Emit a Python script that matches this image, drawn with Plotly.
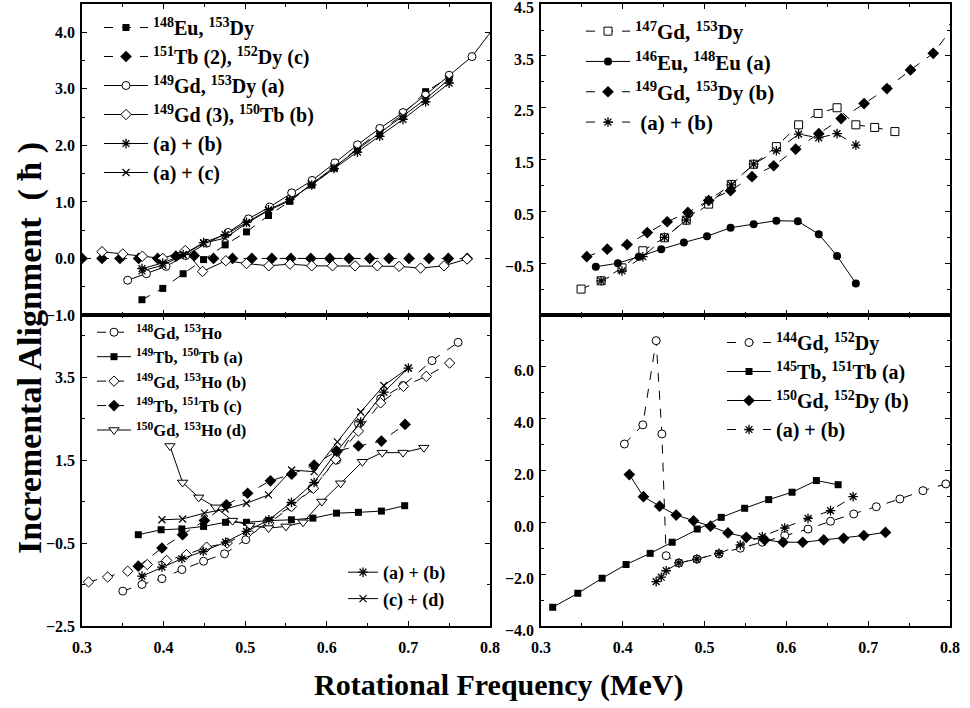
import plotly.graph_objects as go

# ---------------- data ----------------
# Top-left panel
tl_eu_x = [0.3735, 0.399, 0.424, 0.449, 0.4755, 0.5016, 0.5286, 0.5547, 0.5816, 0.609, 0.6376, 0.665, 0.6935, 0.7212, 0.75]
tl_eu_y = [-0.73, -0.53, -0.27, -0.02, 0.24, 0.47, 0.76, 1.01, 1.30, 1.60, 1.95, 2.25, 2.55, 2.95, 3.20]
tl_tb_x = [0.3, 0.3245, 0.3465, 0.3694, 0.3927, 0.4151, 0.4375, 0.4612, 0.4845, 0.5082, 0.5327, 0.556, 0.5804, 0.6037, 0.6273, 0.6527, 0.6763, 0.7008, 0.7253, 0.749, 0.7722]
tl_tb_y = [0.0, 0.0, 0.0, 0.0, 0.0, 0.04, 0.05, 0.0, 0.0, 0.0, 0.0, 0.0, 0.0, 0.0, 0.0, 0.0, 0.0, 0.0, 0.0, 0.0, 0.0]
tl_gd_x = [0.356, 0.379, 0.403, 0.427, 0.4527, 0.479, 0.504, 0.530, 0.557, 0.582, 0.610, 0.6376, 0.665, 0.6935, 0.721, 0.75, 0.778, 0.806]
tl_gd_y = [-0.385, -0.27, -0.14, 0.05, 0.27, 0.46, 0.70, 0.91, 1.16, 1.38, 1.69, 2.01, 2.30, 2.58, 2.89, 3.24, 3.57, 4.10]
tl_b_x = [0.3245, 0.35, 0.374, 0.399, 0.4265, 0.4478, 0.4763, 0.5016, 0.529, 0.555, 0.5816, 0.607, 0.6347, 0.662, 0.6886, 0.715, 0.7437, 0.772]
tl_b_y = [0.12, 0.08, 0.04, 0.0, 0.14, -0.23, -0.04, -0.09, -0.13, -0.10, -0.13, -0.13, -0.13, -0.13, -0.14, -0.17, -0.13, -0.01]
tl_ab_x = [0.3735, 0.399, 0.424, 0.449, 0.4755, 0.5016, 0.5286, 0.5547, 0.5816, 0.609, 0.6376, 0.665, 0.6935, 0.7212, 0.75]
tl_ab_y = [-0.18, -0.08, 0.07, 0.28, 0.42, 0.64, 0.86, 1.04, 1.30, 1.59, 1.88, 2.16, 2.46, 2.77, 3.10]
tl_ac_x = [0.3735, 0.399, 0.424, 0.449, 0.4755, 0.5016, 0.5286, 0.5547, 0.5816, 0.609, 0.6376, 0.665, 0.6935, 0.7212, 0.75]
tl_ac_y = [-0.22, -0.12, 0.06, 0.27, 0.36, 0.62, 0.85, 1.02, 1.32, 1.62, 1.93, 2.22, 2.52, 2.82, 3.17]

# Top-right panel
tr_gd_x = [0.349, 0.3735, 0.399, 0.4245, 0.451, 0.4776, 0.505, 0.5327, 0.560, 0.5878, 0.615, 0.6388, 0.662, 0.685, 0.708, 0.7327]
tr_gd_y = [-1.0, -0.84, -0.59, -0.26, -0.01, 0.33, 0.64, 1.02, 1.41, 1.75, 2.17, 2.39, 2.50, 2.17, 2.12, 2.04]
tr_eu_x = [0.367, 0.394, 0.4196, 0.447, 0.4747, 0.503, 0.5318, 0.56, 0.5878, 0.614, 0.6396, 0.662, 0.685]
tr_eu_y = [-0.57, -0.50, -0.375, -0.23, -0.10, 0.02, 0.185, 0.25, 0.32, 0.31, 0.06, -0.36, -0.89]
tr_b_x = [0.356, 0.381, 0.4053, 0.43, 0.4543, 0.4796, 0.505, 0.5318, 0.558, 0.5845, 0.6114, 0.6396, 0.667, 0.695, 0.723, 0.7518, 0.7796, 0.806]
tr_b_y = [-0.375, -0.23, -0.14, 0.09, 0.30, 0.48, 0.71, 0.90, 1.17, 1.38, 1.70, 2.00, 2.29, 2.58, 2.87, 3.23, 3.55, 4.10]
tr_ab_x = [0.3735, 0.399, 0.4245, 0.451, 0.4776, 0.505, 0.5327, 0.56, 0.5878, 0.615, 0.6396, 0.662, 0.685]
tr_ab_y = [-0.84, -0.65, -0.375, 0.0, 0.33, 0.72, 1.01, 1.41, 1.67, 1.99, 1.92, 2.0, 1.78]

# Bottom-left panel
bl_gd_x = [0.35, 0.3735, 0.398, 0.4224, 0.449, 0.4747, 0.5008, 0.527, 0.556, 0.582, 0.612, 0.6388, 0.666, 0.6935, 0.729, 0.761]
bl_gd_y = [-1.66, -1.50, -1.36, -1.14, -0.94, -0.76, -0.42, 0.02, 0.38, 0.82, 1.50, 2.38, 2.98, 3.30, 3.90, 4.34]
bl_tb_x = [0.369, 0.397, 0.4224, 0.449, 0.476, 0.5016, 0.529, 0.5567, 0.583, 0.612, 0.6388, 0.667, 0.6955]
bl_tb_y = [-0.30, -0.18, -0.16, -0.10, 0.0, 0.0, 0.04, 0.06, 0.10, 0.22, 0.24, 0.27, 0.40]
bl_b_x = [0.308, 0.3314, 0.356, 0.38, 0.4037, 0.428, 0.4527, 0.478, 0.504, 0.529, 0.5567, 0.5837, 0.611, 0.6388, 0.666, 0.694, 0.722, 0.7506]
bl_b_y = [-1.44, -1.32, -1.18, -1.02, -0.92, -0.78, -0.60, -0.50, -0.24, -0.02, 0.38, 0.82, 1.52, 2.20, 2.88, 3.28, 3.52, 3.84]
bl_c_x = [0.369, 0.398, 0.4233, 0.45, 0.477, 0.503, 0.531, 0.557, 0.5845, 0.612, 0.6388, 0.667, 0.696]
bl_c_y = [-1.06, -0.62, -0.30, 0.04, 0.42, 0.70, 1.00, 1.16, 1.38, 1.72, 1.84, 1.96, 2.36]
bl_d_x = [0.4078, 0.4233, 0.443, 0.464, 0.4845, 0.5057, 0.5286, 0.55, 0.571, 0.594, 0.617, 0.6437, 0.668, 0.6935, 0.719]
bl_d_y = [1.84, 0.96, 0.60, 0.36, 0.04, -0.08, -0.14, -0.10, 0.0, 0.50, 0.94, 1.46, 1.68, 1.68, 1.80]
bl_ab_x = [0.3735, 0.398, 0.4224, 0.4486, 0.476, 0.5016, 0.529, 0.5567, 0.5845, 0.612, 0.6416, 0.67, 0.70]
bl_ab_y = [-1.30, -1.08, -0.88, -0.70, -0.48, -0.22, 0.06, 0.48, 0.96, 1.70, 2.42, 3.14, 3.72]
bl_cd_x = [0.398, 0.4233, 0.45, 0.4755, 0.5016, 0.5286, 0.557, 0.5845, 0.613, 0.6416, 0.67, 0.70]
bl_cd_y = [0.06, 0.08, 0.22, 0.32, 0.46, 0.66, 1.26, 1.22, 1.94, 2.66, 3.30, 3.72]

# Bottom-right panel
br_gd_x = [0.402, 0.4245, 0.4408, 0.4478, 0.453, 0.4686, 0.4906, 0.5176, 0.5437, 0.5706, 0.598, 0.6265, 0.654, 0.6824, 0.71, 0.7388, 0.767, 0.795]
br_gd_y = [3.02, 3.76, 7.01, 3.41, -1.29, -1.57, -1.42, -1.22, -1.00, -0.77, -0.51, -0.26, 0.04, 0.32, 0.60, 0.90, 1.22, 1.48]
br_tb_x = [0.3143, 0.345, 0.3747, 0.404, 0.4335, 0.4604, 0.491, 0.5204, 0.549, 0.5784, 0.607, 0.6367, 0.6633]
br_tb_y = [-3.28, -2.74, -2.16, -1.63, -1.20, -0.77, -0.26, 0.19, 0.54, 0.875, 1.16, 1.61, 1.45]
br_b_x = [0.408, 0.4253, 0.445, 0.4653, 0.4865, 0.5073, 0.5286, 0.551, 0.5735, 0.596, 0.62, 0.6457, 0.670, 0.6947, 0.7212]
br_b_y = [1.84, 0.99, 0.62, 0.28, 0.06, -0.15, -0.41, -0.58, -0.68, -0.77, -0.77, -0.68, -0.62, -0.51, -0.39]
br_ab_x = [0.4408, 0.447, 0.453, 0.4686, 0.4906, 0.5176, 0.5437, 0.5706, 0.598, 0.6265, 0.654, 0.6816]
br_ab_y = [-2.29, -2.12, -1.87, -1.57, -1.42, -1.20, -0.875, -0.55, -0.22, 0.15, 0.45, 0.99]

# ---------------- styles ----------------
FONT = "Liberation Serif"
BLACK = "black"

def mk(kind):
    if kind == "sq":
        return dict(symbol="square", size=7, color=BLACK, line=dict(width=0))
    if kind == "osq":
        return dict(symbol="square", size=8, color="white", line=dict(color=BLACK, width=1))
    if kind == "dia":
        return dict(symbol="diamond", size=9, color=BLACK, line=dict(width=0))
    if kind == "odia":
        return dict(symbol="diamond", size=8, color="white", line=dict(color=BLACK, width=1))
    if kind == "circ":
        return dict(symbol="circle", size=8, color=BLACK, line=dict(width=0))
    if kind == "ocirc":
        return dict(symbol="circle", size=8, color="white", line=dict(color=BLACK, width=1))
    if kind == "ast":
        return dict(symbol="asterisk-open", size=8, color=BLACK, line=dict(color=BLACK, width=1.3))
    if kind == "x":
        return dict(symbol="x-thin-open", size=7, color=BLACK, line=dict(color=BLACK, width=1.2))
    if kind == "otri":
        return dict(symbol="triangle-down", size=9, color="white", line=dict(color=BLACK, width=1))

fig = go.Figure()

def add(x, y, name, kind, dash, xa, ya, legend):
    fig.add_trace(go.Scatter(
        x=x, y=y, name=name, mode="lines+markers",
        marker=mk(kind), line=dict(color=BLACK, width=1, dash=dash),
        xaxis=xa, yaxis=ya, legend=legend))

# top-left
add(tl_eu_x, tl_eu_y, "<sup>148</sup>Eu, <sup>153</sup>Dy", "sq", "dash", "x", "y", "legend")
add(tl_tb_x, tl_tb_y, "<sup>151</sup>Tb (2), <sup>152</sup>Dy (c)", "dia", "dash", "x", "y", "legend")
add(tl_gd_x, tl_gd_y, "<sup>149</sup>Gd, <sup>153</sup>Dy (a)", "ocirc", "solid", "x", "y", "legend")
add(tl_b_x, tl_b_y, "<sup>149</sup>Gd (3), <sup>150</sup>Tb (b)", "odia", "solid", "x", "y", "legend")
add(tl_ab_x, tl_ab_y, "(a) + (b)", "ast", "solid", "x", "y", "legend")
add(tl_ac_x, tl_ac_y, "(a) + (c)", "x", "solid", "x", "y", "legend")

# top-right
add(tr_gd_x, tr_gd_y, "<sup>147</sup>Gd, <sup>153</sup>Dy", "osq", "dash", "x2", "y2", "legend2")
add(tr_eu_x, tr_eu_y, "<sup>146</sup>Eu, <sup>148</sup>Eu (a)", "circ", "solid", "x2", "y2", "legend2")
add(tr_b_x, tr_b_y, "<sup>149</sup>Gd, <sup>153</sup>Dy (b)", "dia", "dash", "x2", "y2", "legend2")
add(tr_ab_x, tr_ab_y, " (a) + (b)", "ast", "dash", "x2", "y2", "legend2")

# bottom-left
add(bl_gd_x, bl_gd_y, "<sup>148</sup>Gd, <sup>153</sup>Ho", "ocirc", "dash", "x3", "y3", "legend3")
add(bl_tb_x, bl_tb_y, "<sup>149</sup>Tb, <sup>150</sup>Tb (a)", "sq", "solid", "x3", "y3", "legend3")
add(bl_b_x, bl_b_y, "<sup>149</sup>Gd, <sup>153</sup>Ho (b)", "odia", "dash", "x3", "y3", "legend3")
add(bl_c_x, bl_c_y, "<sup>149</sup>Tb, <sup>151</sup>Tb (c)", "dia", "dash", "x3", "y3", "legend3")
add(bl_d_x, bl_d_y, "<sup>150</sup>Gd, <sup>153</sup>Ho (d)", "otri", "solid", "x3", "y3", "legend3")
add(bl_ab_x, bl_ab_y, "(a) + (b)", "ast", "solid", "x3", "y3", "legend4")
add(bl_cd_x, bl_cd_y, "(c) + (d)", "x", "solid", "x3", "y3", "legend4")

# bottom-right
add(br_gd_x, br_gd_y, "<sup>144</sup>Gd, <sup>152</sup>Dy", "ocirc", "dash", "x4", "y4", "legend5")
add(br_tb_x, br_tb_y, "<sup>145</sup>Tb, <sup>151</sup>Tb (a)", "sq", "solid", "x4", "y4", "legend5")
add(br_b_x, br_b_y, "<sup>150</sup>Gd, <sup>152</sup>Dy (b)", "dia", "solid", "x4", "y4", "legend5")
add(br_ab_x, br_ab_y, "(a) + (b)", "ast", "dash", "x4", "y4", "legend5")

W, H = 970, 708
def px(v):
    return v / W
def py(v):
    return 1 - v / H

XL = [px(82), px(490)]
XR = [px(541), px(950)]
YT = [py(315), py(4)]
YB = [py(626), py(315)]

tickfont = dict(family=FONT, size=16, color=BLACK, weight="bold")

def xaxis(domain, anchor, labels):
    return dict(domain=domain, anchor=anchor, range=[0.3, 0.8001], tick0=0.3, dtick=0.1,
                tickformat=".1f", showticklabels=labels, ticks="inside", ticklen=5,
                tickcolor=BLACK, showline=True, linecolor=BLACK, linewidth=1.5,
                mirror="ticks", showgrid=False, zeroline=False, tickfont=tickfont,
                ticklabelstandoff=6, ticklabeloverflow="allow", automargin=False,
                minor=dict(ticks="inside", ticklen=3, dtick=0.05, tickcolor=BLACK))

def yaxis(domain, anchor, rng, tickvals, minor_dtick, shift=0):
    return dict(domain=domain, anchor=anchor, range=rng, tickmode="array", tickvals=tickvals,
                tickformat=".1f", ticks="inside", ticklen=5, tickcolor=BLACK,
                showline=True, linecolor=BLACK, linewidth=1.5, mirror="ticks",
                showgrid=False, zeroline=False, tickfont=tickfont, ticklabelstandoff=2,
                ticklabeloverflow="allow", automargin=False, ticklabelshift=shift,
                minor=dict(ticks="inside", ticklen=3, tick0=rng[0], dtick=minor_dtick, tickcolor=BLACK))

def legend(x, y, size=19, iw=44):
    return dict(x=px(x), y=py(y), xanchor="left", yanchor="top", bgcolor="rgba(0,0,0,0)",
                borderwidth=0, font=dict(family=FONT, size=size, color=BLACK, weight="bold"),
                itemwidth=iw, tracegroupgap=0, traceorder="normal")

fig.update_layout(
    template="none",
    width=W, height=H, margin=dict(l=0, r=0, t=0, b=0, pad=0), autosize=False,
    paper_bgcolor="white", plot_bgcolor="white",
    font=dict(family=FONT, color=BLACK),
    xaxis=xaxis(XL, "y", False),
    yaxis=yaxis(YT, "x", [-1.0, 4.5], [-1, 0, 1, 2, 3, 4], 0.5),
    xaxis2=xaxis(XR, "y2", False),
    yaxis2=yaxis(YT, "x2", [-1.5, 4.502], [-0.5, 0.5, 1.5, 2.5, 3.5, 4.5], 0.5, 3),
    xaxis3=xaxis(XL, "y3", True),
    yaxis3=yaxis(YB, "x3", [-2.502, 5.0], [-2.5, -0.5, 1.5, 3.5], 1.0),
    xaxis4=xaxis(XR, "y4", True),
    yaxis4=yaxis(YB, "x4", [-4.003, 8], [-4, -2, 0, 2, 4, 6], 1.0, 4),
    legend=legend(99, 8, 20),
    legend2=legend(581, 11, 21),
    legend3=legend(92, 315, 16.5, 34),
    legend4=legend(343, 554, 18, 30),
    legend5=legend(722, 323, 20),
    showlegend=True,
)

fig.add_annotation(text="Rotational Frequency (MeV)", x=px(499), y=py(685), xref="paper", yref="paper",
                   xanchor="center", yanchor="middle", showarrow=False,
                   font=dict(family=FONT, size=30, color=BLACK, weight="bold"))
fig.add_annotation(text="Incremental Alignment\u00a0\u00a0(\u00a0ħ\u00a0)", x=px(30), y=py(348),
                   xref="paper", yref="paper",
                   xanchor="center", yanchor="middle", showarrow=False, textangle=-90,
                   font=dict(family=FONT, size=34, color=BLACK, weight="bold"))

fig.write_html("out.html", config={"displayModeBar": False},
               post_script="document.body.style.margin='0';document.body.style.overflow='hidden';")
